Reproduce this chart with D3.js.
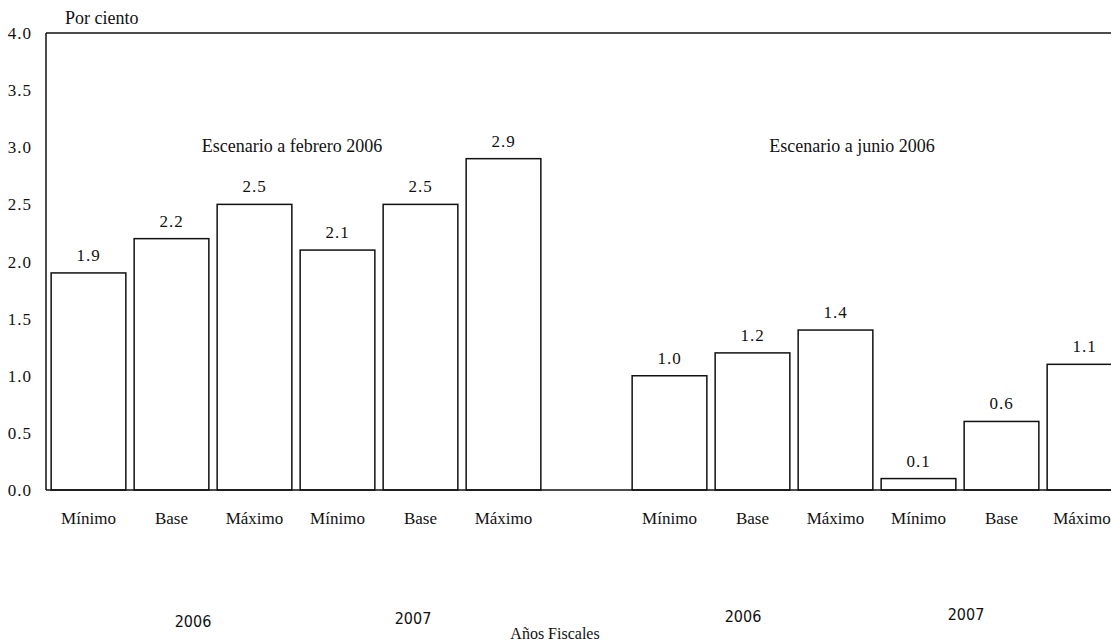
<!DOCTYPE html>
<html>
<head>
<meta charset="utf-8">
<script src="https://cdn.jsdelivr.net/npm/d3@7"></script>
<style>
  body { margin: 0; background: #fff; }
  text { font-family: "Liberation Serif", "Times New Roman", serif; fill: #111; }
</style>
</head>
<body>
<svg id="chart"></svg>
<script>
// bar categories, same for each year
var categories = ["Mínimo", "Base", "Máximo", "Mínimo", "Base", "Máximo"];
var febValues = [1.9, 2.2, 2.5, 2.1, 2.5, 2.9];
var junValues = [1.0, 1.2, 1.4, 0.1, 0.6, 1.1];
var yTicks = [0, 0.5, 1.0, 1.5, 2.0, 2.5, 3.0, 3.5, 4.0];
var years = ["2006", "2007", "2006", "2007"];

var width = 1111, height = 641;
var svg = d3.select("#chart").attr("width", width).attr("height", height);

// 13 slots: 6 bars, one empty gap, 6 bars
var rows = [];
febValues.forEach(function(v, i) { rows.push({ key: "f" + i, cat: categories[i], value: v }); });
rows.push({ key: "gap", cat: "", value: null });
junValues.forEach(function(v, i) { rows.push({ key: "j" + i, cat: categories[i], value: v }); });

var x = d3.scaleBand()
  .domain(rows.map(function(d) { return d.key; }))
  .range([47, 1126])
  .paddingInner(0.1)
  .paddingOuter(0.05);

var y = d3.scaleLinear().domain([0, 4]).range([490, 33]);

// frame: left axis, top line
svg.append("line").attr("x1", 46).attr("x2", 46).attr("y1", y(4)).attr("y2", y(0))
  .attr("stroke", "#111").attr("stroke-width", 1.5);
svg.append("line").attr("x1", 46).attr("x2", width).attr("y1", y(4)).attr("y2", y(4))
  .attr("stroke", "#111").attr("stroke-width", 1.5);

// y tick labels (no tick marks)
svg.selectAll(".ytick")
  .data(yTicks)
  .enter().append("text")
  .attr("class", "ytick")
  .attr("x", 32)
  .attr("y", function(d) { return y(d) + 6; })
  .attr("text-anchor", "end")
  .style("font-size", "17px")
  .style("letter-spacing", "1px")
  .text(function(d) { return d3.format(".1f")(d); });

svg.append("text").attr("x", 65).attr("y", 24).style("font-size", "18px").text("Por ciento");

var bars = rows.filter(function(d) { return d.value !== null; });

svg.selectAll(".bar")
  .data(bars)
  .enter().append("rect")
  .attr("class", "bar")
  .attr("x", function(d) { return x(d.key); })
  .attr("width", x.bandwidth())
  .attr("y", function(d) { return y(d.value); })
  .attr("height", function(d) { return y(0) - y(d.value); })
  .attr("fill", "#fff")
  .attr("stroke", "#111")
  .attr("stroke-width", 1.5);

svg.append("line").attr("x1", 46).attr("x2", width).attr("y1", y(0)).attr("y2", y(0))
  .attr("stroke", "#111").attr("stroke-width", 1.5);

// value labels
svg.selectAll(".val")
  .data(bars)
  .enter().append("text")
  .attr("class", "val")
  .attr("x", function(d) { return x(d.key) + x.bandwidth() / 2; })
  .attr("y", function(d) { return y(d.value) - 12; })
  .attr("text-anchor", "middle")
  .style("font-size", "17px")
  .style("letter-spacing", "1px")
  .text(function(d) { return d3.format(".1f")(d.value); });

// category labels
svg.selectAll(".cat")
  .data(bars)
  .enter().append("text")
  .attr("class", "cat")
  .attr("x", function(d) { return Math.min(x(d.key) + x.bandwidth() / 2, 1082); })
  .attr("y", 524)
  .attr("text-anchor", "middle")
  .style("font-size", "17px")
  .text(function(d) { return d.cat; });

// scenario titles
svg.append("text").attr("x", 292).attr("y", 152).attr("text-anchor", "middle")
  .style("font-size", "18px").text("Escenario a febrero 2006");
svg.append("text").attr("x", 852).attr("y", 152).attr("text-anchor", "middle")
  .style("font-size", "18px").text("Escenario a junio 2006");

// fiscal year labels
var yearX = [193, 413, 743, 966];
var yearY = [627, 624, 622, 620];
svg.selectAll(".year")
  .data(years)
  .enter().append("text")
  .attr("class", "year")
  .attr("x", function(d, i) { return yearX[i]; })
  .attr("y", function(d, i) { return yearY[i]; })
  .attr("text-anchor", "middle")
  .style("font-family", "'Liberation Sans Narrow', 'DejaVu Sans Condensed', sans-serif")
  .style("font-size", "16px")
  .text(function(d) { return d; });

svg.append("text").attr("x", 555).attr("y", 639).attr("text-anchor", "middle")
  .style("font-size", "16px").text("Años Fiscales");
</script>
</body>
</html>
